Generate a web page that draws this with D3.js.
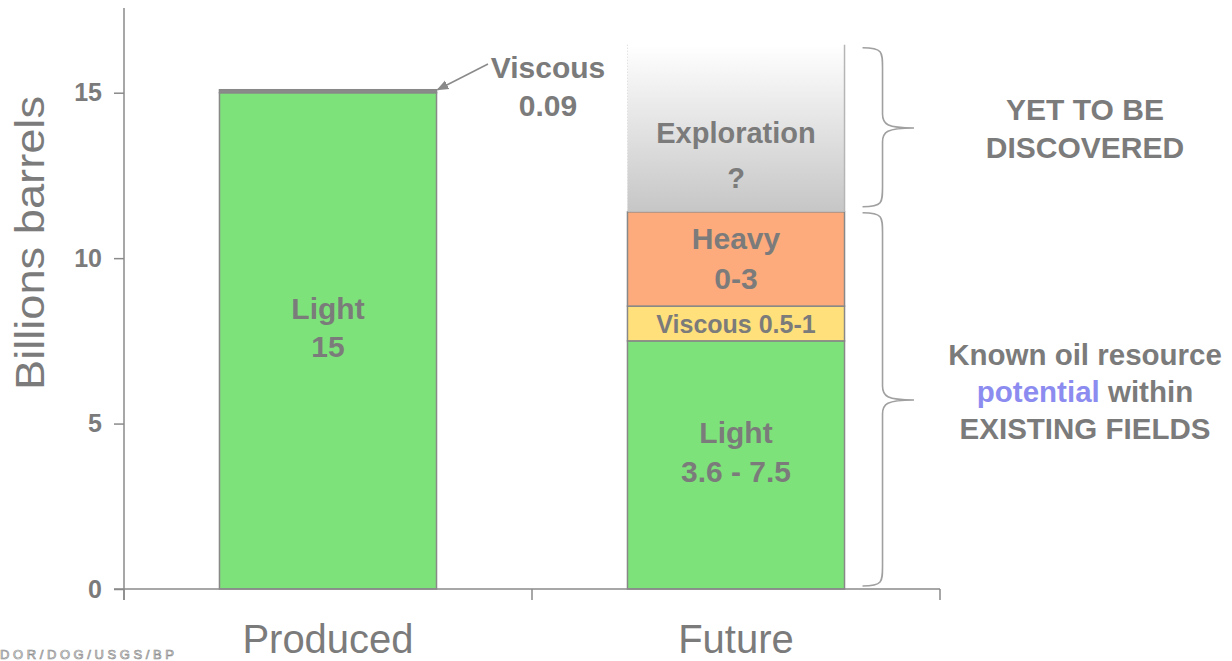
<!DOCTYPE html>
<html><head><meta charset="utf-8">
<script src="https://cdn.jsdelivr.net/npm/d3@7"></script>
<style>
html,body{margin:0;padding:0;background:#fff;}
svg{display:block;font-family:"Liberation Sans",Arial,sans-serif;}
</style></head>
<body><svg id="c" width="1232" height="661"></svg>
<script>
// ---- data ----
const categories = ["Produced", "Future"];
const producedNames = ["Light", "Viscous"];
const producedValues = [15, 0.09];
const futureNames = ["Light", "Viscous", "Heavy", "Exploration"];
const futureValues = [7.5, 1.05, 2.85, 5.05];
const futureLabels = [["Light", "3.6 - 7.5"], ["Viscous 0.5-1"], ["Heavy", "0-3"], ["Exploration", "?"]];
const producedLabels = [["Light", "15"], ["Viscous", "0.09"]];
const yTicks = [0, 5, 10, 15];
const yMax = 17.5;
const braceTexts = [["YET TO BE", "DISCOVERED"], ["Known oil resource", "potential within", "EXISTING FIELDS"]];

// ---- layout ----
const svg = d3.select("#c");
const x = d3.scaleBand().domain(categories).range([124, 940]).paddingInner(0.468).paddingOuter(0.234);
const y = d3.scaleLinear().domain([0, yMax]).range([589, 10]);
const grey = "#7b7b7b";
const fill = {Light: "#7ee27a", Viscous: "#ffe07a", Heavy: "#fdab7c"};

const defs = svg.append("defs");
const grad = defs.append("linearGradient").attr("id", "expl").attr("x1", 0).attr("y1", 0).attr("x2", 0).attr("y2", 1);
grad.append("stop").attr("offset", "0%").attr("stop-color", "#ffffff");
grad.append("stop").attr("offset", "100%").attr("stop-color", "#c6c6c6");
defs.append("marker").attr("id", "arr").attr("viewBox", "0 0 10 10").attr("refX", 9).attr("refY", 5)
  .attr("markerWidth", 8).attr("markerHeight", 8).attr("orient", "auto")
  .append("path").attr("d", "M0,1 L10,5 L0,9 Z").attr("fill", "#8a8a8a");

function stackOf(names, values) {
  let acc = 0;
  return names.map((n, i) => { const s = {name: n, y0: acc, y1: acc + values[i], i}; acc += values[i]; return s; });
}
const prod = stackOf(producedNames, producedValues);
const fut = stackOf(futureNames, futureValues);

const bw = x.bandwidth();
svg.append("g").selectAll("rect").data(prod).join("rect")
  .attr("x", x("Produced")).attr("width", bw)
  .attr("y", d => y(d.y1)).attr("height", d => Math.max(y(d.y0) - y(d.y1), 0))
  .attr("fill", d => d.name === "Viscous" ? "#8a8a8a" : fill[d.name])
  .attr("stroke", "#888").attr("stroke-width", 1.5);

svg.append("g").selectAll("rect").data(fut).join("rect")
  .attr("x", x("Future")).attr("width", bw)
  .attr("y", d => y(d.y1)).attr("height", d => y(d.y0) - y(d.y1))
  .attr("fill", d => d.name === "Exploration" ? "url(#expl)" : fill[d.name])
  .attr("stroke", d => d.name === "Exploration" ? "none" : "#888").attr("stroke-width", 1.5);
const ex = fut[3];
svg.append("line").attr("x1", x("Future") + bw).attr("x2", x("Future") + bw)
  .attr("y1", y(ex.y1)).attr("y2", y(ex.y0)).attr("stroke", "#b5b5b5").attr("stroke-width", 1.5);
svg.append("line").attr("x1", x("Future")).attr("x2", x("Future"))
  .attr("y1", y(ex.y1)).attr("y2", y(ex.y0)).attr("stroke", "#d8d8d8").attr("stroke-width", 1).attr("stroke-dasharray", "1,2");

// axes
const yAxis = d3.axisLeft(y).tickValues(yTicks).tickSize(10).tickPadding(12).tickFormat(d3.format("d"));
const gy = svg.append("g").attr("transform", "translate(124,0)").call(yAxis);
gy.select(".domain").attr("d", `M0,${y(yMax) - 2}V600`);
gy.selectAll("path,line").attr("stroke", "#8a8a8a").attr("stroke-width", 1.5);
gy.selectAll("text").attr("fill", grey).attr("font-size", 25).attr("font-weight", "bold");

const boundaries = [124, x("Produced") + bw + x.step() * x.paddingInner() / 2, 940];
svg.append("line").attr("x1", 114).attr("x2", 940).attr("y1", y(0)).attr("y2", y(0)).attr("stroke", "#8a8a8a").attr("stroke-width", 1.5);
svg.append("g").selectAll("line").data(boundaries).join("line")
  .attr("x1", d => d).attr("x2", d => d).attr("y1", y(0)).attr("y2", 600)
  .attr("stroke", "#8a8a8a").attr("stroke-width", 1.5);

svg.append("g").selectAll("text").data(categories).join("text")
  .attr("x", d => x(d) + bw / 2).attr("y", 653).attr("text-anchor", "middle")
  .attr("font-size", 40).attr("fill", grey).text(d => d);

svg.append("text").attr("transform", "translate(44,243) rotate(-90)").attr("text-anchor", "middle")
  .attr("font-size", 40).attr("fill", grey).attr("textLength", 294).attr("lengthAdjust", "spacingAndGlyphs")
  .text("Billions barrels");

svg.append("text").attr("x", 0).attr("y", 659).attr("font-size", 13).attr("letter-spacing", 3.6)
  .attr("fill", "none").attr("stroke", "#8a8a8a").attr("stroke-width", 0.7).text("DOR/DOG/USGS/BP");

// bar labels
function multi(g, lines, cx, cy, size, lh) {
  const t = g.append("text").attr("text-anchor", "middle").attr("font-size", size).attr("font-weight", "bold").attr("fill", grey);
  lines.forEach((l, i) => t.append("tspan").attr("x", cx).attr("y", cy + i * lh).text(l));
  return t;
}
const lg = svg.append("g");
const pcx = x("Produced") + bw / 2, fcx = x("Future") + bw / 2;
multi(lg, producedLabels[0], pcx, (y(prod[0].y0) + y(prod[0].y1)) / 2 - 22, 30, 38);
multi(lg, producedLabels[1], 548, 78, 30, 38);
svg.append("line").attr("x1", 488).attr("y1", 64).attr("x2", x("Produced") + bw + 1).attr("y2", y(prod[1].y1))
  .attr("stroke", "#8a8a8a").attr("stroke-width", 1.5).attr("marker-end", "url(#arr)");

fut.forEach((d, i) => {
  const lines = futureLabels[i];
  const mid = (y(d.y0) + y(d.y1)) / 2;
  if (lines.length === 1) multi(lg, lines, fcx, mid + 10, 25, 0);
  else if (d.name === "Exploration") multi(lg, lines, fcx, mid + 15, 29, 45);
  else if (d.name === "Light") multi(lg, lines, fcx, mid - 22, 30, 39);
  else multi(lg, lines, fcx, mid - 10, 30, 40);
});

// braces
function brace(xl, top, bot, tipY, xr) {
  const xm = xl + 20;
  return `M${xl},${top} C${xm},${top} ${xm},${top + 4} ${xm},${top + 20} L${xm},${tipY - 14} C${xm},${tipY - 4} ${xm + 4},${tipY} ${xr},${tipY}` +
    ` M${xr},${tipY} C${xm + 4},${tipY} ${xm},${tipY + 4} ${xm},${tipY + 14} L${xm},${bot - 20} C${xm},${bot - 4} ${xm},${bot} ${xl},${bot}`;
}
const bx = x("Future") + bw + 18;
svg.append("path").attr("d", brace(bx, y(ex.y1) + 3, y(ex.y0) - 5, 128, 914)).attr("fill", "none").attr("stroke", "#a0a0a0").attr("stroke-width", 1.6);
svg.append("path").attr("d", brace(bx, y(fut[2].y1) + 1, y(0) - 3, 400, 914)).attr("fill", "none").attr("stroke", "#a0a0a0").attr("stroke-width", 1.6);

// right texts
multi(svg, braceTexts[0], 1085, 120, 30, 38);
const t2 = svg.append("text").attr("text-anchor", "middle").attr("font-size", 29.5).attr("font-weight", "bold").attr("fill", grey);
t2.append("tspan").attr("x", 1085).attr("y", 365).text(braceTexts[1][0]);
const mid2 = t2.append("tspan").attr("x", 1085).attr("y", 402);
const parts = braceTexts[1][1].split(" ");
mid2.append("tspan").attr("fill", "#8c8cf0").text(parts[0]);
mid2.append("tspan").text(" " + parts.slice(1).join(" "));
t2.append("tspan").attr("x", 1085).attr("y", 439).text(braceTexts[1][2]);
</script></body></html>
